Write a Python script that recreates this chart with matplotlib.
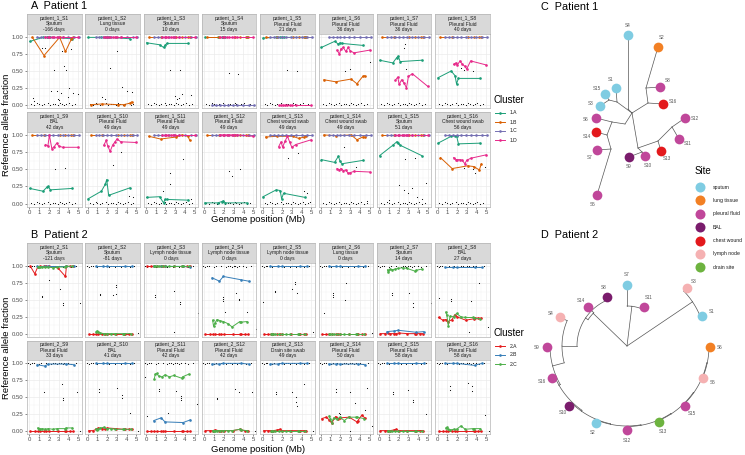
import numpy as np
import matplotlib
matplotlib.use("Agg")
import matplotlib.pyplot as plt

plt.rcParams['font.family'] = ['Liberation Sans', 'DejaVu Sans']

W, H = 745, 455

# ---------------- patient 1 facets ----------------
p1_site = ["Sputum", "Lung tissue", "Sputum", "Sputum", "Pleural Fluid", "Pleural Fluid", "Pleural Fluid",
           "Pleural Fluid", "BAL", "Pleural Fluid", "Pleural Fluid", "Pleural Fluid", "Chest wound swab",
           "Chest wound swab", "Sputum", "Chest wound swab"]
p1_days = ["-166 days", "0 days", "10 days", "15 days", "21 days", "36 days", "36 days", "40 days",
           "42 days", "49 days", "49 days", "49 days", "49 days", "49 days", "51 days", "56 days"]

pos_1A = [0.05, 1.4, 1.8, 1.95, 2.15, 4.35]
pos_1B = [0.3, 1.5, 3.1, 3.7, 4.3, 4.5]
pos_1C = [0.8, 1.2, 1.6, 2.0, 2.4, 2.9, 3.4, 4.0, 4.6, 5.1]
pos_1D = [1.65, 1.9, 2.05, 2.3, 2.55, 2.8, 3.0, 3.4, 5.0]

frac_1A = [
    [0.94, 1.0, 1.0, 1.0, 1.0, 0.98],
    [1.0, 1.0, 1.0, 1.0, 1.0, 0.98],
    [0.92, 0.89, 0.85, 0.88, 0.91, 0.91],
    [1.0, 1.0, 1.0, 1.0, 1.0, 1.0],
    [0.99, 1.0, 1.0, 1.0, 1.0, 1.0],
    [0.85, 0.94, 0.90, 0.92, 0.91, 0.88],
    [0.66, 0.62, 0.70, 0.72, 0.64, 0.66],
    [0.40, 0.50, 0.43, 0.31, 0.39, 0.39],
    [0.22, 0.18, 0.24, 0.25, 0.20, 0.22],
    [0.07, 0.18, 0.28, 0.35, 0.12, 0.23],
    [0.09, 0.10, 0.01, 0.06, 0.06, 0.05],
    [0.01, 0.01, 0.03, 0.04, 0.01, 0.01],
    [0.10, 0.20, 0.19, 0.07, 0.15, 0.09],
    [0.64, 0.60, 0.69, 0.62, 0.58, 0.63],
    [0.70, 0.85, 0.90, 0.88, 0.85, 0.70],
    [0.88, 0.98, 0.99, 0.99, 0.87, 0.88],
]
frac_1B = [
    [1.0, 0.73, 1.0, 0.79, 0.97, 1.0],
    [0.0, 0.01, 0.0, 0.0, 0.02, 0.04],
    [1.0, 1.0, 1.0, 1.0, 1.0, 1.0],
    [1.0, 1.0, 1.0, 1.0, 1.0, 1.0],
    [1.0, 1.0, 1.0, 1.0, 1.0, 1.0],
    [0.37, 0.34, 0.38, 0.31, 0.42, 0.43],
    [1.0, 1.0, 1.0, 1.0, 1.0, 1.0],
    [1.0, 1.0, 1.0, 1.0, 1.0, 1.0],
    [1.0, 1.0, 1.0, 1.0, 1.0, 1.0],
    [1.0, 1.0, 1.0, 1.0, 1.0, 1.0],
    [0.98, 0.94, 0.97, 1.0, 0.98, 0.92],
    [1.0, 1.0, 1.0, 1.0, 1.0, 1.0],
    [0.97, 0.98, 0.98, 0.95, 0.97, 0.99],
    [1.0, 0.99, 1.0, 0.93, 0.97, 0.97],
    [1.0, 1.0, 1.0, 1.0, 1.0, 1.0],
    [0.67, 0.51, 0.55, 0.54, 0.49, 0.58],
]
frac_1C = [
    [1, 1, 1, 1, 1, 1, 1, 1, 1, 1],
    [1, 1, 1, 1, 1, 1, 1, 1, 1, 1],
    [1, 1, 1, 1, 1, 1, 1, 1, 1, 1],
    [0, 0, 0, 0, 0, 0, 0, 0, 0, 0],
    [1, 1, 1, 1, 1, 1, 1, 1, 1, 1],
    [1, 1, 1, 1, 1, 1, 1, 1, 1, 1],
    [1, 1, 1, 1, 1, 1, 1, 1, 1, 1],
    [1, 1, 1, 1, 1, 1, 1, 1, 1, 1],
    [1, 1, 1, 1, 1, 1, 1, 1, 1, 1],
    [1, 1, 1, 1, 1, 1, 1, 1, 1, 1],
    [1, 1, 1, 1, 1, 1, 1, 1, 1, 1],
    [1, 1, 1, 1, 1, 1, 1, 1, 1, 1],
    [1, 1, 1, 1, 1, 1, 1, 1, 1, 1],
    [1, 1, 1, 1, 1, 1, 1, 1, 1, 1],
    [1, 1, 1, 1, 1, 1, 1, 1, 1, 1],
    [1, 1, 1, 1, 1, 1, 1, 1, 1, 1],
]
frac_1D = [
    [1, 1, 1, 1, 1, 1, 1, 1, 1],
    [1, 1, 1, 1, 1, 1, 1, 1, 1],
    [1, 1, 1, 1, 1, 1, 1, 1, 1],
    [1, 1, 1, 1, 1, 1, 1, 1, 1],
    [0, 0, 0, 0, 0, 0, 0, 0, 0],
    [0.81, 0.75, 0.83, 0.85, 0.79, 0.85, 0.80, 0.77, 0.81],
    [0.36, 0.41, 0.30, 0.37, 0.32, 0.25, 0.42, 0.46, 0.27],
    [0.60, 0.62, 0.59, 0.65, 0.60, 0.57, 0.53, 0.65, 0.59],
    [0.86, 0.84, 1.0, 0.80, 0.83, 0.88, 0.84, 0.82, 0.82],
    [0.85, 0.92, 0.84, 0.76, 0.85, 0.90, 0.94, 0.90, 0.89],
    [1, 1, 1, 1, 1, 1, 1, 1, 1],
    [1, 1, 1, 1, 1, 1, 1, 1, 0.98],
    [0.83, 0.90, 0.82, 0.91, 0.98, 0.89, 0.82, 0.86, 0.93],
    [0.51, 0.49, 0.51, 0.48, 0.49, 0.44, 0.45, 0.47, 0.46],
    [1, 1, 1, 1, 1, 1, 1, 1, 1],
    [0.67, 0.64, 0.64, 0.64, 0.63, 0.58, 0.63, 0.66, 0.71],
]

# unclustered sites (black dots)
bg1_x = [0.2, 0.5, 0.8, 1.0, 1.3, 1.5, 1.9, 2.1, 2.4, 2.6, 2.9, 3.1, 3.3, 3.6, 3.8, 4.1, 4.4, 4.7]
bg1_y = [0.01, 0.0, 0.02, 0.01, 0.0, 0.01, 0.02, 0.0, 0.01, 0.01, 0.0, 0.02, 0.01, 0.0, 0.01, 0.02, 0.0, 0.01]
mid_p1 = [
    [(0.4, 0.1), (0.5, 0.05), (1.3, 0.84), (1.6, 0.84), (2.5, 0.51), (2.2, 0.2), (2.8, 0.2), (3.2, 0.17),
     (3.3, 0.8), (3.6, 0.57), (3.8, 0.52), (4.1, 0.24), (4.3, 0.82), (4.5, 0.17), (5.0, 0.16), (2.9, 0.09),
     (3.0, 0.07), (4.0, 0.12)],
    [(1.8, 0.09), (2.3, 0.54), (3.0, 0.79), (3.5, 0.26), (4.0, 0.2), (4.5, 0.19), (1.5, 0.12)],
    [(2.5, 0.51), (3.5, 0.52), (3.4, 0.1), (3.0, 0.13), (3.7, 0.16), (4.6, 0.14), (3.2, 0.08)],
    [(2.5, 0.47), (3.5, 0.45)],
    [(2.5, 0.51), (3.5, 0.5)],
    [(2.5, 0.50), (3.0, 0.53), (5.0, 0.64)],
    [(2.5, 0.84), (2.6, 0.90), (2.8, 0.53)],
    [(2.7, 0.52), (3.6, 0.50), (2.4, 0.54)],
    [(2.6, 0.51), (3.7, 0.52)],
    [(3.4, 0.75), (2.6, 0.56), (4.6, 0.1), (4.2, 0.11)],
    [(3.8, 0.65), (2.5, 0.44), (2.5, 0.29), (1.7, 0.18), (4.6, 0.07)],
    [(2.5, 0.48), (2.8, 0.40), (3.7, 0.51)],
    [(2.6, 0.67), (3.6, 0.73), (4.2, 0.19), (4.6, 0.16), (4.9, 0.02)],
    [(2.4, 0.82), (3.6, 0.53), (4.7, 0.04)],
    [(2.6, 0.65), (3.7, 0.67), (2.0, 0.27), (2.5, 0.2), (3.0, 0.15), (3.4, 0.22), (4.4, 0.07), (4.8, 0.3),
     (1.0, 0.05), (3.9, 0.1)],
    [(2.7, 0.52), (3.6, 0.50), (3.8, 0.45), (4.9, 0.53)],
]

# ---------------- patient 2 facets ----------------
p2_site = ["Sputum", "Sputum", "Lymph node tissue", "Lymph node tissue", "Lymph node tissue", "Lung tissue",
           "Sputum", "BAL", "Pleural Fluid", "BAL", "Pleural Fluid", "Pleural Fluid", "Drain site swab",
           "Pleural Fluid", "Pleural Fluid", "Pleural Fluid"]
p2_days = ["-121 days", "-81 days", "0 days", "0 days", "0 days", "0 days", "14 days", "27 days",
           "33 days", "41 days", "42 days", "42 days", "49 days", "50 days", "58 days", "58 days"]

pos_2A = [0.1, 0.55, 0.85, 1.1, 1.5, 1.75, 2.0, 2.9, 3.7, 3.8, 4.2, 4.5]
pos_2B = [0.8, 1.55, 1.95, 3.8, 4.55]
pos_2C = [0.85, 0.95, 1.1, 1.3, 1.65, 1.95, 2.4, 2.85, 3.65, 3.75, 4.4]

frac_2A = [
    [1.0, 0.89, 0.99, 1.0, 1.0, 1.0, 1.0, 0.98, 0.85, 1.0, 1.0, 1.0],
    [0, 0, 0, 0, 0, 0, 0, 0, 0, 0, 0, 0],
    [1, 1, 1, 1, 1, 1, 1, 1, 1, 1, 1, 1],
    [0, 0, 0, 0, 0, 0, 0, 0, 0, 0, 0, 0],
    [0, 0, 0, 0, 0, 0, 0, 0, 0, 0, 0, 0],
    [0, 0, 0, 0, 0, 0, 0, 0, 0, 0, 0, 0],
    [0, 0, 0.01, 0, 0, 0, 0.01, 0, 0, 0, 0, 0],
    [0.24, 0.20, 0.21, 0.18, 0.21, 0.28, 0.25, 0.20, 0.22, 0.23, 0.23, 0.23],
    [0, 0, 0, 0, 0, 0, 0, 0, 0, 0, 0, 0],
    [0, 0, 0.02, 0.04, 0.03, 0.02, 0.04, 0.03, 0.02, 0.02, 0.02, 0.02],
    [0, 0, 0, 0, 0, 0, 0, 0, 0, 0, 0, 0],
    [0, 0, 0, 0.01, 0, 0, 0, 0, 0.02, 0.01, 0, 0],
    [0, 0, 0, 0, 0.01, 0.02, 0, 0, 0, 0, 0, 0],
    [0.18, 0.20, 0.16, 0.11, 0.21, 0.18, 0.19, 0.20, 0.13, 0.15, 0.23, 0.19],
    [0, 0, 0, 0, 0.01, 0.02, 0, 0, 0, 0, 0, 0],
    [0, 0, 0, 0, 0, 0, 0, 0, 0, 0, 0, 0],
]
frac_2B = [
    [1, 1, 1, 1, 1],
    [1, 1, 1, 1, 1],
    [1, 1, 1, 1, 0.99],
    [0.83, 0.78, 0.85, 0.80, 0.78],
    [1, 1, 1, 1, 1],
    [1, 1, 1, 1, 1],
    [0.03, 0.04, 0.05, 0.02, 0.03],
    [0.99, 0.99, 0.99, 0.99, 0.99],
    [0.98, 0.96, 0.99, 0.99, 0.98],
    [1, 1, 1, 1, 1],
    [0.15, 0.19, 0.13, 0.12, 0.16],
    [0.99, 0.99, 1.0, 1.0, 0.99],
    [0.99, 0.99, 1.0, 1.0, 1.0],
    [0.99, 0.99, 0.99, 0.99, 0.98],
    [1, 1, 1, 1, 1],
    [1.0, 1.0, 1.0, 0.97, 1.0],
]
frac_2C = [
    [0.99, 0.99, 0.99, 0.99, 0.99, 0.99, 0.98, 0.99, 0.99, 1.0, 1.0],
    [0.03, 0.04, 0.03, 0.01, 0, 0, 0, 0, 0, 0, 0],
    [1, 1, 1, 1, 1, 1, 1, 1, 1, 1, 1],
    [0.20, 0.11, 0.16, 0.21, 0.19, 0.18, 0.15, 0.10, 0.18, 0.17, 0.18],
    [0, 0, 0, 0, 0, 0, 0, 0, 0, 0, 0],
    [0, 0, 0, 0, 0, 0, 0, 0, 0, 0, 0],
    [0.95, 0.91, 0.96, 0.95, 0.96, 0.97, 0.98, 0.97, 0.93, 0.94, 0.96],
    [0.32, 0.28, 0.12, 0.26, 0.25, 0.30, 0.25, 0.24, 0.24, 0.23, 0.22],
    [0.04, 0.03, 0.02, 0.03, 0.02, 0.03, 0.02, 0.03, 0.03, 0.04, 0.04],
    [0.03, 0.01, 0.02, 0.04, 0.05, 0.03, 0.03, 0.02, 0.02, 0.02, 0.02],
    [0.77, 0.84, 0.85, 0.81, 0.80, 0.83, 0.80, 0.82, 0.78, 0.80, 0.84],
    [0, 0, 0, 0, 0, 0, 0, 0, 0.02, 0.01, 0],
    [0, 0, 0, 0, 0, 0, 0, 0, 0, 0, 0],
    [0.22, 0.18, 0.12, 0.19, 0.17, 0.20, 0.15, 0.20, 0.20, 0.20, 0.18],
    [0, 0, 0, 0, 0, 0, 0, 0, 0, 0, 0],
    [0.04, 0.05, 0.02, 0.01, 0.02, 0.02, 0.07, 0.02, 0.03, 0.03, 0.03],
]

bg2_x = [-0.1, 0.1, 0.3, 0.5, 1.0, 1.2, 1.7, 2.2, 2.4, 2.6, 2.8, 3.0, 3.2, 3.4, 3.6, 4.0, 4.3, 4.8]
bg2_y = [1.0, 0.99, 1.0, 1.0, 0.99, 1.0, 1.0, 0.99, 1.0, 1.0, 0.99, 1.0, 1.0, 0.99, 1.0, 1.0, 0.99, 1.0]
mid_p2 = [
    [(1.3, 0.56), (1.3, 0.54), (2.0, 0.79), (3.1, 0.67), (3.5, 0.45), (3.5, 0.43), (5.2, 0.45)],
    [(1.3, 0.59), (1.3, 0.57), (2.9, 0.73), (2.9, 0.70), (2.9, 0.59), (2.6, 0.58), (5.2, 0.01)],
    [(0.9, 0.58), (0.9, 0.54), (2.9, 0.64), (3.5, 0.47), (3.5, 0.44), (2.9, 0.02), (5.3, 0.31)],
    [(1.9, 0.55), (1.9, 0.52), (1.9, 0.48), (2.1, 0.32), (3.3, 0.61), (3.6, 0.52), (3.6, 0.50), (4.4, 0.32),
     (5.3, 0.07)],
    [(1.3, 0.63), (1.3, 0.62), (3.0, 0.67), (3.3, 0.74), (3.3, 0.77), (3.5, 0.60), (0.0, 0.47), (5.2, 0.03)],
    [(1.2, 0.60), (1.2, 0.58), (1.2, 0.55), (2.6, 0.75), (2.5, 0.50), (0.3, 0.31), (5.2, 0.01)],
    [(1.3, 0.60), (1.3, 0.57), (3.1, 0.60), (3.5, 0.45), (3.5, 0.39), (5.3, 0.46)],
    [(1.4, 0.52), (1.4, 0.49), (3.4, 0.48), (4.3, 0.75), (0.1, 0.53), (5.2, 0.10), (3.2, 0.02)],
    [(1.5, 0.58), (3.3, 0.70), (3.5, 0.48), (3.5, 0.45), (4.9, 0.58), (5.2, 0.0)],
    [(1.2, 0.62), (1.2, 0.58), (3.0, 0.64), (3.5, 0.53), (3.5, 0.49), (4.3, 0.26), (5.2, 0.0)],
    [(1.3, 0.62), (1.3, 0.59), (2.3, 0.26), (3.1, 0.59), (3.6, 0.52), (3.6, 0.49), (3.6, 0.46), (5.2, 0.39),
     (-0.1, 0.79), (0.1, 0.22)],
    [(1.3, 0.49), (1.3, 0.47), (3.2, 0.62), (3.6, 0.57), (4.9, 0.58), (5.2, 0.0)],
    [(1.4, 0.57), (1.4, 0.55), (3.0, 0.58), (3.4, 0.50), (3.4, 0.42), (3.5, 0.36), (4.3, 0.70), (5.2, 0.0)],
    [(1.5, 0.62), (1.5, 0.58), (3.0, 0.58), (3.5, 0.41), (4.7, 0.64), (5.2, 0.07), (3.0, 0.0), (4.5, 0.30),
     (1.9, 0.26), (2.0, 0.24)],
    [(1.4, 0.58), (1.4, 0.55), (3.0, 0.60), (3.5, 0.46), (3.5, 0.42), (4.8, 0.25)],
    [(1.3, 0.67), (1.3, 0.60), (3.1, 0.71), (3.5, 0.66), (3.5, 0.59), (4.9, 0.23), (5.3, 0.0)],
]

clusters_p1 = ["1.A", "1.B", "1.C", "1.D"]
colors_p1 = ["#1B9E77", "#D95F02", "#7570B3", "#E7298A"]
clusters_p2 = ["2.A", "2.B", "2.C"]
colors_p2 = ["#E41A1C", "#377EB8", "#4DAF4A"]

# ---------------- sites / trees ----------------
site_names = ["sputum", "lung tissue", "pleural fluid", "BAL", "chest wound", "lymph node", "drain site"]
site_colors = ["#7FCCE2", "#F28024", "#C0479A", "#7A1C6C", "#E3191C", "#F5B1B2", "#6DB33F"]

tree1_site = {"S1": "sputum", "S2": "lung tissue", "S3": "sputum", "S4": "sputum", "S5": "pleural fluid",
              "S6": "pleural fluid", "S7": "pleural fluid", "S8": "pleural fluid", "S9": "BAL",
              "S10": "pleural fluid", "S11": "pleural fluid", "S12": "pleural fluid", "S13": "chest wound",
              "S14": "chest wound", "S15": "sputum", "S16": "chest wound"}
# unrooted layout, node coordinates
tree1_xy = {"R": (0, 0), "a": (-4, 4), "b": (16, 10), "c": (14, 25), "d": (-15, 11), "f": (-23, 13),
            "g": (-7, -11), "h": (-20, -9), "i": (-25, -22), "k": (-21, -36), "l": (6, -35), "m": (10, -39),
            "n": (26, -28), "o": (40, -14),
            "S4": (-4, 78), "S2": (26, 66), "S1": (-16, 25), "S15": (-27, 19), "S3": (-32, 7), "S8": (28, 26),
            "S16": (31, 9), "S6": (-36, -5), "S12": (53, -5), "S14": (-36, -19), "S11": (47, -26),
            "S7": (-35, -37), "S13": (29, -38), "S9": (-3, -44), "S10": (13, -43), "S5": (-35, -82)}
tree1_edges = [("R", "a"), ("a", "S4"), ("R", "b"), ("b", "c"), ("c", "S2"), ("c", "S8"), ("b", "S16"),
               ("R", "d"), ("d", "S1"), ("d", "f"), ("f", "S15"), ("f", "S3"), ("R", "g"), ("g", "h"),
               ("h", "S6"), ("h", "i"), ("i", "S14"), ("i", "k"), ("k", "S7"), ("k", "S5"), ("R", "l"),
               ("l", "m"), ("m", "S9"), ("m", "S10"), ("l", "n"), ("n", "S13"), ("n", "o"), ("o", "S12"),
               ("o", "S11")]

tree2_site = {"S1": "sputum", "S2": "sputum", "S3": "lymph node", "S4": "lymph node", "S5": "lymph node",
              "S6": "lung tissue", "S7": "sputum", "S8": "BAL", "S9": "pleural fluid", "S10": "BAL",
              "S11": "pleural fluid", "S12": "pleural fluid", "S13": "drain site", "S14": "pleural fluid",
              "S15": "pleural fluid", "S16": "pleural fluid"}
# circular layout: (angle in degrees, radius)
tree2_pos = {"root": (0, 0), "N1": (83, 40), "N2": (34, 79), "N3": (136, 47), "N4": (146, 50),
             "N5": (180, 65), "N6": (195, 77), "N7": (210, 78.5), "N8": (235, 79.5), "N9": (258, 80),
             "N10": (280, 80.5), "N11": (303, 81), "N12": (325, 81.5), "N13": (348, 82),
             "S7": (90, 61), "S11": (66, 43), "S3": (44, 83), "S1": (22, 81), "S8": (112, 53),
             "S14": (135, 55), "S4": (157, 73), "S9": (181, 80), "S16": (203, 82), "S10": (226, 83),
             "S2": (248, 83), "S12": (270, 84), "S13": (293, 83), "S15": (314, 84), "S5": (337, 83),
             "S6": (359, 83)}
tree2_parent = {"N1": "root", "S7": "N1", "S11": "N1", "N2": "root", "S3": "N2", "S1": "N2", "N3": "root",
                "S14": "N3", "N4": "N3", "S8": "N4", "N5": "N4", "S4": "N5", "N6": "N5", "S9": "N6",
                "N7": "N6", "S16": "N7", "N8": "N7", "S10": "N8", "N9": "N8", "S2": "N9", "N10": "N9",
                "S12": "N10", "N11": "N10", "S13": "N11", "N12": "N11", "S15": "N12", "N13": "N12",
                "S5": "N13", "S6": "N13"}

# ---------------- drawing ----------------
fig = plt.figure(figsize=(W / 100, H / 100), dpi=100)


def rect(x0, y0, x1, y1):
    return [x0 / W, 1 - y1 / H, (x1 - x0) / W, (y1 - y0) / H]


BORDER = "#B3B3B3"


def draw_facets(patient, rows, sites, days, series, bg_x, bg_y, mids):
    for k in range(16):
        r, c = divmod(k, 8)
        x0 = 27 + c * 58.3
        st, sb, pb = rows[r]
        sax = fig.add_axes(rect(x0, st, x0 + 54.5, sb))
        sax.set_facecolor("#D9D9D9")
        sax.set_xticks([]); sax.set_yticks([])
        for s in sax.spines.values():
            s.set_color(BORDER); s.set_linewidth(0.5)
        sax.text(0.5, 0.5, f"patient_{patient}_S{k + 1}\n{sites[k]}\n{days[k]}", ha="center", va="center",
                 fontsize=3.5, color="#1A1A1A", linespacing=1.15, transform=sax.transAxes)

        ax = fig.add_axes(rect(x0, sb, x0 + 54.5, pb))
        ax.set_xlim(-0.25, 5.35)
        ax.set_ylim(-0.05, 1.05)
        ax.set_xticks([0, 1, 2, 3, 4, 5])
        ax.set_xticks([0.5, 1.5, 2.5, 3.5, 4.5], minor=True)
        ax.set_yticks([0, 0.25, 0.5, 0.75, 1.0])
        ax.set_yticks([0.125, 0.375, 0.625, 0.875], minor=True)
        ax.grid(which="major", color="#EBEBEB", lw=0.5)
        ax.grid(which="minor", color="#F2F2F2", lw=0.3)
        ax.set_axisbelow(True)
        for s in ax.spines.values():
            s.set_color(BORDER); s.set_linewidth(0.5)
        ax.tick_params(which="minor", length=0)
        ax.tick_params(which="major", length=1.5, width=0.4, color="#333333", labelsize=4.3,
                       labelcolor="#4D4D4D", pad=1)
        if c == 0:
            ax.set_yticklabels(["0.00", "0.25", "0.50", "0.75", "1.00"])
        else:
            ax.tick_params(axis="y", left=False, labelleft=False)
        if r == 1:
            ax.set_xticklabels(["0", "1", "2", "3", "4", "5"])
        else:
            ax.tick_params(axis="x", bottom=False, labelbottom=False)

        ax.plot(bg_x, bg_y, ls="none", marker="o", ms=0.8, color="black", mew=0)
        mx = [p[0] for p in mids[k]]
        my = [p[1] for p in mids[k]]
        ax.plot(mx, my, ls="none", marker="o", ms=0.8, color="black", mew=0)
        for pos, frac, col in series:
            ax.plot(pos, frac[k], "-o", color=col, lw=0.7, ms=1.9, mew=0, clip_on=False)


rows_A = [(14, 34, 108), (112, 131.5, 207)]
rows_B = [(243, 263, 337), (340.5, 360, 434)]
draw_facets(1, rows_A, p1_site, p1_days,
            [(pos_1A, frac_1A, colors_p1[0]), (pos_1B, frac_1B, colors_p1[1]),
             (pos_1C, frac_1C, colors_p1[2]), (pos_1D, frac_1D, colors_p1[3])],
            bg1_x, bg1_y, mid_p1)
draw_facets(2, rows_B, p2_site, p2_days,
            [(pos_2A, frac_2A, colors_p2[0]), (pos_2B, frac_2B, colors_p2[1]),
             (pos_2C, frac_2C, colors_p2[2])],
            bg2_x, bg2_y, mid_p2)

site_col = dict(zip(site_names, site_colors))

# tree C
axc = fig.add_axes(rect(560, 20, 720, 210))
axc.set_xlim(-72, 88); axc.set_ylim(-97, 93); axc.axis("off")
for p, ch in tree1_edges:
    (xa, ya), (xb, yb) = tree1_xy[p], tree1_xy[ch]
    axc.plot([xa, xb], [ya, yb], color="#555555", lw=0.5, zorder=1)
for name, site in tree1_site.items():
    x, y = tree1_xy[name]
    axc.plot(x, y, "o", ms=7, color=site_col[site], mew=0, zorder=3)
    d = np.hypot(x, y)
    axc.text(x + x / d * 10, y + y / d * 10, name, fontsize=3.3, color="#555555", ha="center", va="center")

# tree D
axd = fig.add_axes(rect(525, 262, 735, 450))
axd.set_xlim(-102, 108); axd.set_ylim(-104, 84); axd.axis("off")
for ch, p in tree2_parent.items():
    ac, rc = tree2_pos[ch]
    ap, rp = tree2_pos[p]
    if rp > 0:
        th = np.radians(np.linspace(ap, ac, 40))
        axd.plot(rp * np.cos(th), rp * np.sin(th), color="#555555", lw=0.5, zorder=1)
    t = np.radians(ac)
    axd.plot([rp * np.cos(t), rc * np.cos(t)], [rp * np.sin(t), rc * np.sin(t)], color="#555555", lw=0.5,
             zorder=1)
for name, site in tree2_site.items():
    a, rr = tree2_pos[name]
    t = np.radians(a)
    axd.plot(rr * np.cos(t), rr * np.sin(t), "o", ms=7, color=site_col[site], mew=0, zorder=3)
    axd.text((rr + 10) * np.cos(t), (rr + 10) * np.sin(t), name, fontsize=3.3, color="#555555",
             ha="center", va="center")

# overlay for titles, axis titles and legends
ov = fig.add_axes([0, 0, 1, 1])
ov.set_xlim(0, W); ov.set_ylim(H, 0); ov.axis("off")
ov.patch.set_alpha(0)
for x, y, s in [(31, 6, "A  Patient 1"), (31, 235, "B  Patient 2"), (541, 7, "C  Patient 1"),
                (541, 235, "D  Patient 2")]:
    ov.text(x, y, s, fontsize=7.8, va="center", ha="left")
for yc in [125, 348]:
    ov.text(7, yc, "Reference allele fraction", fontsize=6.8, rotation=90, va="center", ha="center")
for yc in [219, 449]:
    ov.text(258, yc, "Genome position (Mb)", fontsize=6.8, va="center", ha="center")


def cluster_legend(y0, labels, cols):
    ov.text(494, y0, "Cluster", fontsize=7, va="center", ha="left")
    for j, (lab, col) in enumerate(zip(labels, cols)):
        y = y0 + 13 + j * 9
        ov.plot([495, 505], [y, y], color=col, lw=0.7)
        ov.plot([500], [y], "o", color=col, ms=1.9, mew=0)
        ov.text(510, y, lab, fontsize=3.6, va="center", ha="left", color="#1A1A1A")


cluster_legend(100, clusters_p1, colors_p1)
cluster_legend(333, clusters_p2, colors_p2)

ov.text(695, 171, "Site", fontsize=7, va="center", ha="left")
for j, (lab, col) in enumerate(zip(site_names, site_colors)):
    y = 187 + j * 13.4
    ov.plot([700], [y], "o", ms=7.2, color=col, mew=0)
    ov.text(713, y, lab, fontsize=3.7, va="center", ha="left", color="#1A1A1A")

fig.savefig("out.png", dpi=100)
